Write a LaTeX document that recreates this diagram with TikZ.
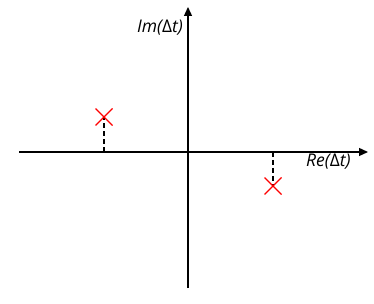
\documentclass[tikz,border=0pt]{standalone}
\usepackage{fontspec}
\setmainfont{Open Sans}
\usetikzlibrary{arrows.meta,calc}
\begin{document}
\begin{tikzpicture}[x=1pt,y=-1pt,
  axis/.style={line width=1.3pt,-{Triangle[length=9pt,width=8pt]}},
  drop/.style={line width=1.3pt,dashed,dash pattern=on 5pt off 3pt},
  pole/.style={red,line width=1.2pt},
  lbl/.style={font=\fontsize{17.5}{20}\selectfont\itshape,inner sep=0pt}]
\useasboundingbox (0,0) rectangle (374,304);
\coordinate (xl) at (19,152);
\coordinate (xr) at (368,152);
\coordinate (yb) at (188,288);
\coordinate (yt) at (188,7);
\draw[axis] (xl) -- (xr);
\draw[axis] (yb) -- (yt);
\node[lbl,anchor=east] (im) at (183,28) {Im({\upshape Δ}t)};
\node[lbl,anchor=west] (re) at (306,162) {Re({\upshape Δ}t)};
\coordinate (p1) at (104,117);
\coordinate (p2) at (273,186);
\coordinate (f1) at (104,152);
\coordinate (f2) at (273,152);
\draw[drop] (f1) -- (p1);
\draw[drop] (f2) -- (p2);
\draw[pole] ($(p1)+(-8.5,-8.5)$) -- ($(p1)+(8.5,8.5)$) ($(p1)+(-8.5,8.5)$) -- ($(p1)+(8.5,-8.5)$);
\draw[pole] ($(p2)+(-8.5,-8.5)$) -- ($(p2)+(8.5,8.5)$) ($(p2)+(-8.5,8.5)$) -- ($(p2)+(8.5,-8.5)$);
\end{tikzpicture}
\end{document}
